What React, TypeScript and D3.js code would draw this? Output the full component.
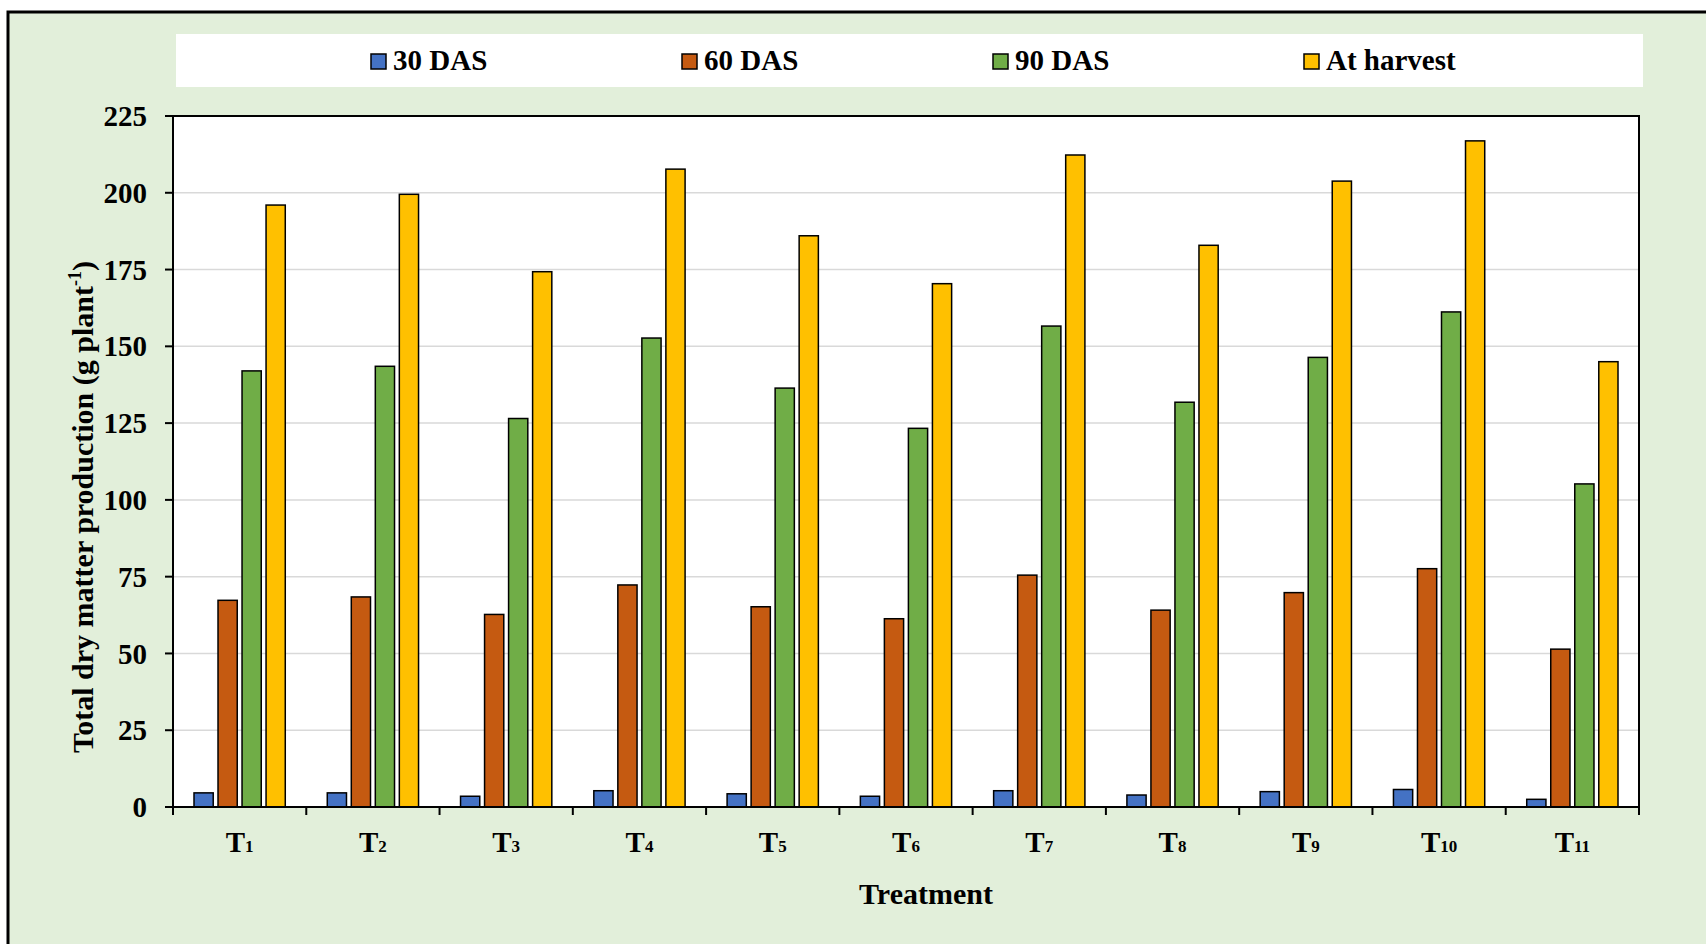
import React from "react";
import * as d3 from "d3";

const categories = ["1", "2", "3", "4", "5", "6", "7", "8", "9", "10", "11"];
const seriesNames = ["30 DAS", "60 DAS", "90 DAS", "At harvest"];
const seriesColors = ["#4472C4", "#C55A11", "#70AD47", "#FFC000"];
const das30 = [4.6, 4.6, 3.5, 5.3, 4.3, 3.5, 5.3, 3.9, 5.0, 5.7, 2.5];
const das60 = [67.3, 68.4, 62.7, 72.3, 65.2, 61.3, 75.5, 64.1, 69.8, 77.6, 51.4];
const das90 = [142.0, 143.5, 126.5, 152.7, 136.4, 123.3, 156.6, 131.8, 146.4, 161.2, 105.2];
const harvest = [196.0, 199.5, 174.3, 207.7, 186.0, 170.4, 212.3, 182.9, 203.8, 216.9, 145.0];
const yTicks = [0, 25, 50, 75, 100, 125, 150, 175, 200, 225];

const seriesValues = [das30, das60, das90, harvest];

const W = 1706;
const H = 944;
const plot = { left: 173, right: 1639, top: 116, bottom: 807 };
const FONT = "'Liberation Serif', 'Times New Roman', serif";

export default function App() {
  const x0 = d3.scaleBand<string>().domain(categories).range([plot.left, plot.right]).padding(0);
  const x1 = d3
    .scaleBand<number>()
    .domain(d3.range(seriesNames.length))
    .range([21, x0.bandwidth() - 21])
    .paddingInner(0.2)
    .paddingOuter(0);
  const y = d3.scaleLinear().domain([0, 225]).range([plot.bottom, plot.top]);

  const legendX = [371, 682, 993, 1304];

  return (
    <div style={{ position: "absolute", left: 0, top: 0 }}>
      <svg width={W} height={H} style={{ display: "block", fontFamily: FONT }}>
        <rect x={0} y={0} width={W} height={H} fill="#ffffff" />
        <rect x={8} y={12} width={W + 20} height={H + 20} fill="#E2EFDA" stroke="#000" strokeWidth={3} />

        {/* legend */}
        <rect x={176} y={34} width={1467} height={53} fill="#ffffff" />
        {seriesNames.map((s, i) => (
          <g key={s}>
            <rect x={legendX[i]} y={54} width={15} height={15} fill={seriesColors[i]} stroke="#000" strokeWidth={1.5} />
            <text x={legendX[i] + 22} y={70} fontSize={29} fontWeight="bold" fill="#000">
              {s}
            </text>
          </g>
        ))}

        {/* plot area */}
        <rect x={plot.left} y={plot.top} width={plot.right - plot.left} height={plot.bottom - plot.top} fill="#ffffff" />
        {yTicks.slice(1, -1).map((t) => (
          <line key={t} x1={plot.left} x2={plot.right} y1={y(t)} y2={y(t)} stroke="#D9D9D9" strokeWidth={1.5} />
        ))}

        {/* bars */}
        {categories.map((c, ci) => (
          <g key={c} transform={`translate(${x0(c)},0)`}>
            {seriesValues.map((vals, si) => (
              <rect
                key={si}
                x={x1(si)}
                y={y(vals[ci])}
                width={x1.bandwidth()}
                height={y(0) - y(vals[ci])}
                fill={seriesColors[si]}
                stroke="#000"
                strokeWidth={1.5}
              />
            ))}
          </g>
        ))}

        {/* plot border */}
        <rect x={plot.left} y={plot.top} width={plot.right - plot.left} height={plot.bottom - plot.top} fill="none" stroke="#000" strokeWidth={2} />

        {/* y axis ticks */}
        {yTicks.map((t) => (
          <g key={t}>
            <line x1={plot.left - 8} x2={plot.left} y1={y(t)} y2={y(t)} stroke="#000" strokeWidth={2} />
            <text x={147} y={y(t)} dy="0.35em" textAnchor="end" fontSize={29} fontWeight="bold" fill="#000">
              {t}
            </text>
          </g>
        ))}

        {/* x axis ticks */}
        {[...categories.map((c) => x0(c) as number), plot.right].map((xv, i) => (
          <line key={i} x1={xv} x2={xv} y1={plot.bottom} y2={plot.bottom + 8} stroke="#000" strokeWidth={2} />
        ))}
        {categories.map((c) => (
          <text
            key={c}
            x={(x0(c) as number) + x0.bandwidth() / 2}
            y={852}
            textAnchor="middle"
            fontSize={29}
            fontWeight="bold"
            fill="#000"
          >
            T<tspan fontSize={17}>{c}</tspan>
          </text>
        ))}

        {/* axis titles */}
        <text x={926} y={904} textAnchor="middle" fontSize={30} fontWeight="bold" fill="#000">
          Treatment
        </text>
        <text
          transform={`translate(93,507) rotate(-90)`}
          textAnchor="middle"
          fontSize={30}
          fontWeight="bold"
          fill="#000"
        >
          Total dry matter production (g plant
          <tspan fontSize={18} dy={-12}>-1</tspan>
          <tspan dy={12}>)</tspan>
        </text>
      </svg>
    </div>
  );
}
